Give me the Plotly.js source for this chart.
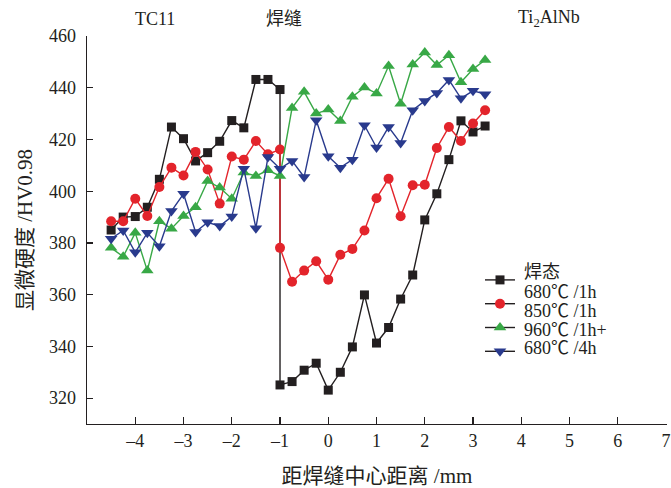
<!DOCTYPE html>
<html>
<head>
<meta charset="utf-8">
<script src="https://cdn.plot.ly/plotly-3.0.1.min.js"></script>
<style>html,body{margin:0;padding:0;background:#fff;}#chart{width:671px;height:488px;}</style>
</head>
<body>
<div id="chart"></div>
<script>
// ---- data ----
const seriesNames = ['焊态', '850℃ /1h', '960℃ /1h+', '680℃ /4h'];
const legendLabels = ['焊态', '680℃ /1h', '850℃ /1h', '960℃ /1h+', '680℃ /4h'];
const regionLabels = ['TC11', '焊缝', 'Ti<sub>2</sub>AlNb'];
const regionX = [-3.6, -0.92, 4.58];
const xTicks = [-4, -3, -2, -1, 0, 1, 2, 3, 4, 5, 6, 7];
const yTicks = [320, 340, 360, 380, 400, 420, 440, 460];

const xWelded = [-4.5, -4.25, -4, -3.75, -3.5, -3.25, -3, -2.75, -2.5, -2.25, -2, -1.75, -1.5, -1.25, -1,
  -1, -0.75, -0.5, -0.25, 0, 0.25, 0.5, 0.75, 1, 1.25, 1.5, 1.75, 2, 2.25, 2.5, 2.75, 3, 3.25];
const yWelded = [385, 390, 390.2, 393.8, 404.6, 424.8, 420.3, 411.7, 414.9, 419.3, 427.3, 424.5, 443.2, 443.2, 439.3,
  325.1, 326.4, 330.8, 333.5, 323.1, 330, 339.8, 359.9, 341.3, 347.3, 358.3, 367.6, 388.9, 399, 412.2, 427.2, 422.9, 425.2];

const x850 = [-4.5, -4.25, -4, -3.75, -3.5, -3.25, -3, -2.75, -2.5, -2.25, -2, -1.75, -1.5, -1.25, -1,
  -1, -0.75, -0.5, -0.25, 0, 0.25, 0.5, 0.75, 1, 1.25, 1.5, 1.75, 2, 2.25, 2.5, 2.75, 3, 3.25];
const y850 = [388.4, 388.4, 397.1, 390.4, 401.6, 409.1, 406.1, 415.2, 408.4, 395.2, 413.4, 412.2, 419.4, 414.3, 416.1,
  378.1, 365, 369.3, 372.9, 365.8, 375.4, 377.7, 384.8, 397.3, 404.8, 390.3, 402.3, 402.5, 416.7, 424.8, 419.4, 426.2, 431.3];

const x960 = [-4.5, -4.25, -4, -3.75, -3.5, -3.25, -3, -2.75, -2.5, -2.25, -2, -1.75, -1.5, -1.25, -1,
  -0.75, -0.5, -0.25, 0, 0.25, 0.5, 0.75, 1, 1.25, 1.5, 1.75, 2, 2.25, 2.5, 2.75, 3, 3.25];
const y960 = [378.1, 374.7, 383.9, 369.3, 388.4, 385.5, 390.4, 393.8, 403.9, 401.4, 397.1, 407.2, 405.9, 408.1, 405.9,
  432.2, 438.4, 430, 431.6, 427.1, 436.5, 440.1, 437.8, 448.4, 433.8, 449, 453.6, 448.8, 452.6, 442.1, 447.2, 450.7];

const x680_4 = [-4.5, -4.25, -4, -3.75, -3.5, -3.25, -3, -2.75, -2.5, -2.25, -2, -1.75, -1.5, -1.25, -1,
  -0.75, -0.5, -0.25, 0, 0.25, 0.5, 0.75, 1, 1.25, 1.5, 1.75, 2, 2.25, 2.5, 2.75, 3, 3.25];
const y680_4 = [381.6, 384.8, 376.4, 383.9, 378.7, 392.3, 399, 384.2, 388, 386.5, 390.2, 408.7, 385.7, 413.2, 408.7,
  411.7, 405.5, 427.4, 413.5, 409.1, 412.2, 425.5, 416.9, 424.8, 418.6, 431.3, 434.9, 438, 443, 435.9, 438.8, 437.5];

// ---- styles ----
const colors = ['#231f20', '#e3242b', '#38a846', '#293a8d'];
const symbols = ['square', 'circle', 'triangle-up', 'triangle-down'];
const msizes = [9, 10, 11, 11];
const xs = [xWelded, x850, x960, x680_4];
const ys = [yWelded, y850, y960, y680_4];

const FONT = 'Liberation Serif, "Noto Sans CJK SC", serif';

const traces = [];
for (let i = 0; i < 4; i++) {
  traces.push({
    type: 'scatter', mode: 'lines+markers', name: seriesNames[i], showlegend: false,
    x: xs[i], y: ys[i],
    line: {color: colors[i], width: 1.4},
    marker: {symbol: symbols[i], size: msizes[i], color: colors[i]},
    cliponaxis: false
  });
}
// legend keys (black lines, coloured markers, as in the reference); their texts are drawn as annotations
for (let i = 0; i < 4; i++) {
  traces.push({
    type: 'scatter', mode: 'lines+markers', name: '', legendgroup: seriesNames[i],
    x: [null], y: [null], showlegend: true,
    line: {color: '#231f20', width: 1.4},
    marker: {symbol: symbols[i], size: msizes[i], color: colors[i]}
  });
}

const L = 87, R = 4, T = 36, B = 64, W = 671, H = 488;
const pw = W - L - R, ph = H - T - B;
const px2x = p => (p - L) / pw;
const py2y = p => (H - B - p) / ph;

const annotations = [];
regionLabels.forEach((t, i) => {
  annotations.push({text: t, x: regionX[i], xref: 'x', y: py2y(19), yref: 'paper',
    showarrow: false, xanchor: 'center', yanchor: 'middle',
    font: {family: FONT, size: 18, color: '#231f20'}});
});
const legendY = [271.7, 291.7, 311, 330, 347.7];
legendLabels.forEach((t, i) => {
  annotations.push({text: t, x: px2x(522), xref: 'paper', y: py2y(legendY[i]), yref: 'paper',
    showarrow: false, xanchor: 'left', yanchor: 'middle',
    font: {family: FONT, size: 18, color: '#231f20'}});
});

const layout = {
  width: W, height: H,
  margin: {l: L, r: R, t: T, b: B, pad: 0},
  paper_bgcolor: '#fff', plot_bgcolor: '#fff',
  font: {family: FONT, size: 18, color: '#231f20'},
  showlegend: true,
  legend: {x: px2x(480), y: py2y(263), xanchor: 'left', yanchor: 'top',
    bgcolor: 'rgba(0,0,0,0)', borderwidth: 0, font: {family: FONT, size: 16},
    itemwidth: 30, tracegroupgap: 0},
  xaxis: {
    range: [-5, 7.02], tickvals: xTicks, ticktext: xTicks.map(v => v < 0 ? '–' + Math.abs(v) : String(v)),
    ticks: 'inside', ticklen: 7, tickwidth: 1.2, tickcolor: '#231f20',
    showline: true, linecolor: '#231f20', linewidth: 1.3, showgrid: false, zeroline: false,
    tickfont: {family: FONT, size: 18},
    title: {text: '距焊缝中心距离 /mm', font: {family: FONT, size: 21}, standoff: 22}
  },
  yaxis: {
    range: [310, 460], tickvals: yTicks,
    ticks: 'inside', ticklen: 6, tickwidth: 1.2, tickcolor: '#231f20',
    showline: true, linecolor: '#231f20', linewidth: 1.3, showgrid: false, zeroline: false,
    tickfont: {family: FONT, size: 18}, ticklabelstandoff: 6,
    title: {text: '显微硬度 /HV0.98', font: {family: FONT, size: 21}, standoff: 10}
  },
  annotations: annotations
};

Plotly.newPlot('chart', traces, layout, {displayModeBar: false, staticPlot: true});
</script>
</body>
</html>
